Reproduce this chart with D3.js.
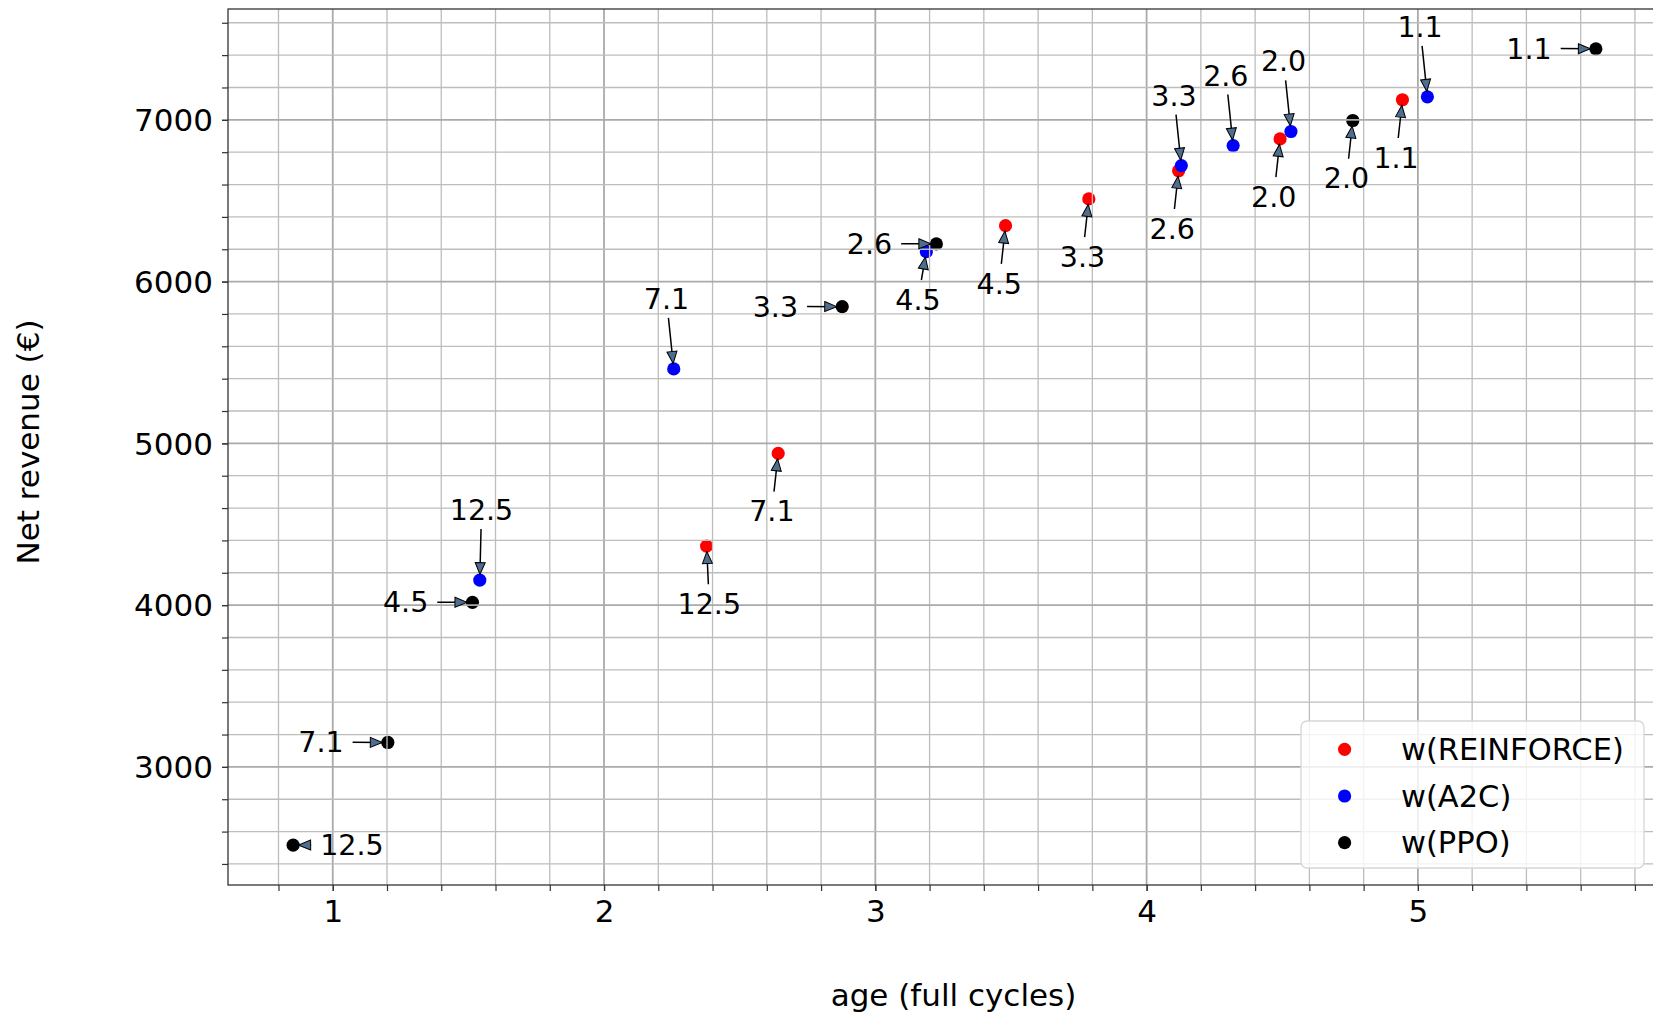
<!DOCTYPE html>
<html>
<head>
<meta charset="utf-8">
<script src="https://cdn.jsdelivr.net/npm/d3@7"></script>
<style>
  body { margin: 0; background: #fff; }
  svg { display: block; }
  text { font-family: "DejaVu Sans", sans-serif; fill: #000; }
</style>
</head>
<body>
<div id="chart"></div>
<script>
// weight labels written next to every point
var wLabels = ["12.5", "7.1", "4.5", "3.3", "2.6", "2.0", "1.1"];

var reinforceAge = [2.378, 2.642, 3.480, 3.787, 4.118, 4.492, 4.943];
var reinforceRevenue = [4365, 4938, 6346, 6511, 6685, 6882, 7124];

var a2cAge = [1.542, 2.257, 3.188, 4.128, 4.319, 4.532, 5.035];
var a2cRevenue = [4155, 5460, 6185, 6717, 6841, 6928, 7142];

var ppoAge = [0.854, 1.203, 1.515, 2.878, 3.225, 4.760, 5.656];
var ppoRevenue = [2516, 3151, 4017, 5845, 6233, 6996, 7439];

// where the annotation text sits relative to its point
var reinforceSide = ["below", "below", "below", "below", "below", "below", "below"];
var a2cSide = ["above", "above", "belowNear", "above", "above", "above", "above"];
var ppoSide = ["right", "left", "left", "left", "left", "below", "left"];

var seriesNames = ["w(REINFORCE)", "w(A2C)", "w(PPO)"];
var seriesColors = ["#ff0000", "#0000ff", "#000000"];

var xTicks = [1, 2, 3, 4, 5];
var yTicks = [3000, 4000, 5000, 6000, 7000];

var width = 1653,
    height = 1014;

var plot = { left: 228, right: 1661, top: 9, bottom: 885 };

var series = [
  { name: seriesNames[0], color: seriesColors[0], age: reinforceAge, rev: reinforceRevenue, side: reinforceSide },
  { name: seriesNames[1], color: seriesColors[1], age: a2cAge, rev: a2cRevenue, side: a2cSide },
  { name: seriesNames[2], color: seriesColors[2], age: ppoAge, rev: ppoRevenue, side: ppoSide }
];

var allAge = reinforceAge.concat(a2cAge, ppoAge);
var allRev = reinforceRevenue.concat(a2cRevenue, ppoRevenue);
var xe = d3.extent(allAge), ye = d3.extent(allRev);
var xPad = (xe[1] - xe[0]) * 0.05, yPad = (ye[1] - ye[0]) * 0.05;

var x = d3.scaleLinear().domain([xe[0] - xPad, xe[1] + xPad]).range([plot.left, plot.right]);
var y = d3.scaleLinear().domain([ye[0] - yPad, ye[1] + yPad]).range([plot.bottom, plot.top]);

var xd = x.domain(), yd = y.domain();
var xMinor = d3.range(Math.ceil(xd[0] * 5), Math.floor(xd[1] * 5) + 1).map(k => k / 5);
var yMinor = d3.range(Math.ceil(yd[0] / 200), Math.floor(yd[1] / 200) + 1).map(k => k * 200);

var svg = d3.select('#chart')
    .append('svg')
    .attr('width', width)
    .attr('height', height);

svg.append('defs').append('marker')
    .attr('id', 'head')
    .attr('viewBox', '-1 -1 14 12')
    .attr('refX', 12)
    .attr('refY', 5)
    .attr('markerWidth', 14)
    .attr('markerHeight', 12)
    .attr('markerUnits', 'userSpaceOnUse')
    .attr('orient', 'auto')
    .append('path')
    .attr('d', 'M0,0 L12,5 L0,10 Z')
    .attr('fill', '#4f6d8c')
    .attr('stroke', '#000')
    .attr('stroke-width', 1);

// scatter points (grid is drawn over them, like the original)
series.forEach(function(s) {
  svg.append('g').selectAll('circle')
    .data(s.age)
    .enter()
    .append('circle')
    .attr('cx', d => x(d))
    .attr('cy', (d, i) => y(s.rev[i]))
    .attr('r', 6.6)
    .attr('fill', s.color);
});

// grid
var grid = svg.append('g');
grid.selectAll('.vx')
  .data(xMinor)
  .enter().append('line')
  .attr('x1', d => x(d)).attr('x2', d => x(d))
  .attr('y1', plot.top).attr('y2', plot.bottom)
  .attr('stroke', d => Math.abs(d - Math.round(d)) < 1e-6 ? '#aaaaaa' : '#bdbdbd')
  .attr('stroke-width', d => Math.abs(d - Math.round(d)) < 1e-6 ? 1.8 : 1.3);
grid.selectAll('.hy')
  .data(yMinor)
  .enter().append('line')
  .attr('x1', plot.left).attr('x2', plot.right)
  .attr('y1', d => y(d)).attr('y2', d => y(d))
  .attr('stroke', d => d % 1000 === 0 ? '#aaaaaa' : '#bdbdbd')
  .attr('stroke-width', d => d % 1000 === 0 ? 1.8 : 1.3);

// minor ticks
svg.append('g')
  .attr('transform', 'translate(0,' + plot.bottom + ')')
  .call(d3.axisBottom(x).tickValues(xMinor).tickSize(6).tickFormat(''))
  .call(g => g.select('.domain').remove())
  .selectAll('line').attr('stroke', '#333').attr('stroke-width', 1.2);
svg.append('g')
  .attr('transform', 'translate(' + plot.left + ',0)')
  .call(d3.axisLeft(y).tickValues(yMinor).tickSize(6).tickFormat(''))
  .call(g => g.select('.domain').remove())
  .selectAll('line').attr('stroke', '#333').attr('stroke-width', 1.2);

// major axes
var xAxis = svg.append('g')
  .attr('transform', 'translate(0,' + plot.bottom + ')')
  .call(d3.axisBottom(x).tickValues(xTicks).tickSize(6).tickPadding(9).tickFormat(d3.format('d')));
xAxis.select('.domain').remove();
xAxis.selectAll('line').attr('stroke', '#333').attr('stroke-width', 1.2);
xAxis.selectAll('text')
  .attr('font-family', '"DejaVu Sans", sans-serif')
  .attr('font-size', 31)
  .attr('fill', '#000');

var yAxis = svg.append('g')
  .attr('transform', 'translate(' + plot.left + ',0)')
  .call(d3.axisLeft(y).tickValues(yTicks).tickSize(6).tickPadding(9).tickFormat(d3.format('d')));
yAxis.select('.domain').remove();
yAxis.selectAll('line').attr('stroke', '#333').attr('stroke-width', 1.2);
yAxis.selectAll('text')
  .attr('font-family', '"DejaVu Sans", sans-serif')
  .attr('font-size', 31)
  .attr('dy', '0.35em')
  .attr('fill', '#000');

// spines
svg.append('rect')
  .attr('x', plot.left)
  .attr('y', plot.top)
  .attr('width', plot.right - plot.left)
  .attr('height', plot.bottom - plot.top)
  .attr('fill', 'none')
  .attr('stroke', '#333')
  .attr('stroke-width', 1.3);

// annotations
var sideOffset = {
  above:     { dx: -30,   dy: -60 },
  below:     { dx: -29,   dy: 68 },
  belowNear: { dx: -31,   dy: 58 },
  left:      { dx: -89.5, dy: 10 },
  right:     { dx: 27,    dy: 10 }
};
var annFont = 28.5;
var ann = svg.append('g');

series.forEach(function(s) {
  s.age.forEach(function(a, i) {
    var px = x(a), py = y(s.rev[i]);
    var off = sideOffset[s.side[i]];
    var tx = px + off.dx, ty = py + off.dy;
    var t = ann.append('text')
      .attr('x', tx)
      .attr('y', ty)
      .attr('font-size', annFont)
      .text(wLabels[i]);
    var bb = t.node().getBBox();
    var left = bb.x, right = bb.x + bb.width;
    var top = ty - 0.73 * annFont, bottom = ty;
    var cx = (left + right) / 2, cy = (top + bottom) / 2;
    var vx = px - cx, vy = py - cy;
    var len = Math.sqrt(vx * vx + vy * vy);
    var ux = vx / len, uy = vy / len;
    var hw = (right - left) / 2, hh = (bottom - top) / 2;
    var te = Math.min(ux !== 0 ? hw / Math.abs(ux) : Infinity, uy !== 0 ? hh / Math.abs(uy) : Infinity);
    ann.append('line')
      .attr('x1', cx + ux * (te + 9))
      .attr('y1', cy + uy * (te + 9))
      .attr('x2', px - ux * 5.5)
      .attr('y2', py - uy * 5.5)
      .attr('stroke', '#000')
      .attr('stroke-width', 1.5)
      .attr('marker-end', 'url(#head)');
  });
});

// axis labels
svg.append('text')
  .attr('x', (plot.left + plot.right) / 2 + 9)
  .attr('y', 1006)
  .attr('text-anchor', 'middle')
  .attr('font-size', 31)
  .text('age (full cycles)');

svg.append('text')
  .attr('transform', 'translate(38.5,' + ((plot.top + plot.bottom) / 2 - 5) + ') rotate(-90)')
  .attr('text-anchor', 'middle')
  .attr('font-size', 31)
  .text('Net revenue (€)');

// legend, lower right
var lw = 343, lh = 147;
var legend = svg.append('g')
  .attr('transform', 'translate(' + (plot.right - 17 - lw) + ',' + (plot.bottom - 17 - lh) + ')');
legend.append('rect')
  .attr('width', lw)
  .attr('height', lh)
  .attr('rx', 6)
  .attr('ry', 6)
  .attr('fill', '#fff')
  .attr('fill-opacity', 0.8)
  .attr('stroke', '#d6d6d6')
  .attr('stroke-width', 1.3);
var items = legend.selectAll('.item')
  .data(series)
  .enter().append('g')
  .attr('transform', (d, i) => 'translate(0,' + (28.3 + i * 46.7) + ')');
items.append('circle')
  .attr('cx', 43.6)
  .attr('cy', 0)
  .attr('r', 6.6)
  .attr('fill', d => d.color);
items.append('text')
  .attr('x', 100)
  .attr('y', 10.5)
  .attr('font-size', 30.5)
  .text(d => d.name);
</script>
</body>
</html>
